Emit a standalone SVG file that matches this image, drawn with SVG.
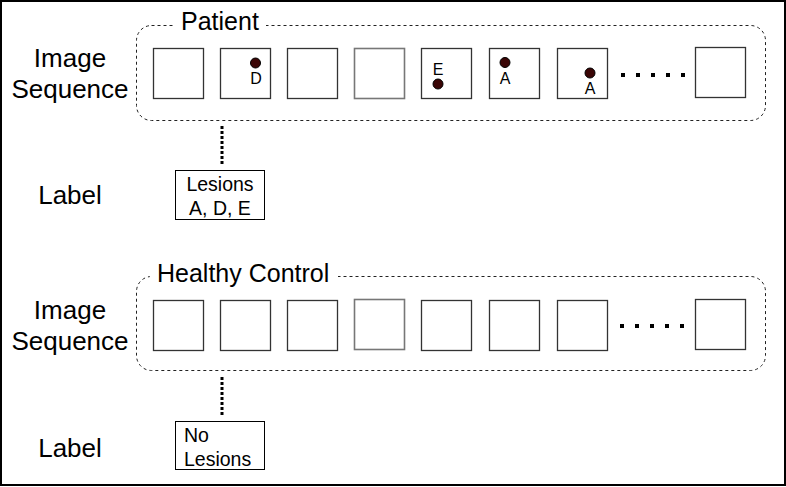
<svg xmlns="http://www.w3.org/2000/svg" width="786" height="487" viewBox="0 0 786 487">
<style>
text{font-family:"Liberation Sans",Arial,sans-serif;fill:#000}
.big{font-size:26px}
.ttl{font-size:25px}
.mid{font-size:19.5px}
.sm{font-size:16px}
.grp{fill:none;stroke:#222;stroke-width:1;stroke-dasharray:3 3}
.frame{fill:#fff;stroke:#333;stroke-width:1.3}
.frame2{fill:#fff;stroke:#777;stroke-width:1.6}
.dot{fill:#3a0505;stroke:#000;stroke-width:1}
.gap{fill:#000}
.lbl{fill:#fff;stroke:#000;stroke-width:1}
.conn{fill:none;stroke:#000;stroke-width:3;stroke-dasharray:3 2}
</style>
<rect x="0" y="0" width="786" height="487" fill="#fff"/>
<rect x="1" y="1" width="784" height="484" fill="none" stroke="#000" stroke-width="2"/>

<g id="patient-seq">
<rect class="grp" x="136.5" y="25.5" width="629" height="95" rx="15"/>
<rect x="174" y="14" width="92" height="20" fill="#fff"/>
<text class="ttl" x="181" y="30">Patient</text>
</g>
<g id="p-frame1"><rect class="frame" x="153.5" y="48.5" width="50" height="50"/></g>
<g id="p-frame2"><rect class="frame" x="220.5" y="48.5" width="50" height="50"/><circle class="dot" cx="255.5" cy="63" r="5"/><text class="sm" x="256" y="84" text-anchor="middle">D</text></g>
<g id="p-frame3"><rect class="frame" x="287.5" y="48.5" width="50" height="50"/></g>
<g id="p-frame4"><rect class="frame2" x="354.5" y="48.5" width="50" height="50"/></g>
<g id="p-frame5"><rect class="frame" x="421.5" y="48.5" width="50" height="50"/><text class="sm" x="438" y="75" text-anchor="middle">E</text><circle class="dot" cx="438" cy="84" r="5"/></g>
<g id="p-frame6"><rect class="frame" x="489.5" y="48.5" width="50" height="50"/><circle class="dot" cx="505" cy="62.5" r="5"/><text class="sm" x="505" y="84" text-anchor="middle">A</text></g>
<g id="p-frame7"><rect class="frame" x="557.5" y="48.5" width="50" height="50"/><circle class="dot" cx="590" cy="73" r="5"/><text class="sm" x="590" y="94" text-anchor="middle">A</text></g>
<g id="p-ellipsis"><rect class="gap" x="621" y="73" width="4" height="4"/><rect class="gap" x="636" y="73" width="4" height="4"/><rect class="gap" x="651" y="73" width="4" height="4"/><rect class="gap" x="666" y="73" width="4" height="4"/><rect class="gap" x="681" y="73" width="4" height="4"/></g>
<g id="p-frameN"><rect class="frame" x="695.5" y="47.5" width="50" height="50"/></g>
<g id="p-imgseq-label"><text class="big" x="70" y="67" text-anchor="middle">Image</text><text class="big" x="70" y="98" text-anchor="middle">Sequence</text></g>
<g id="p-label-title"><text class="big" x="70" y="204" text-anchor="middle">Label</text></g>
<g id="p-label"><rect class="lbl" x="175.5" y="170.5" width="89" height="49"/><text class="mid" x="220" y="191" text-anchor="middle">Lesions</text><text class="mid" x="220" y="215" text-anchor="middle">A, D, E</text></g>

<g id="hc-seq">
<rect class="grp" x="136.5" y="276.5" width="629" height="94" rx="15"/>
<rect x="150" y="264" width="188" height="22" fill="#fff"/>
<text class="ttl" x="157" y="282">Healthy Control</text>
</g>
<g id="h-frame1"><rect class="frame" x="153.5" y="300.5" width="50" height="50"/></g>
<g id="h-frame2"><rect class="frame" x="220.5" y="300.5" width="50" height="50"/></g>
<g id="h-frame3"><rect class="frame" x="287.5" y="300.5" width="50" height="50"/></g>
<g id="h-frame4"><rect class="frame2" x="354.5" y="299.5" width="50" height="50"/></g>
<g id="h-frame5"><rect class="frame" x="421.5" y="300.5" width="50" height="50"/></g>
<g id="h-frame6"><rect class="frame" x="489.5" y="300.5" width="50" height="50"/></g>
<g id="h-frame7"><rect class="frame" x="557.5" y="300.5" width="50" height="50"/></g>
<g id="h-ellipsis"><rect class="gap" x="620" y="324" width="4" height="4"/><rect class="gap" x="635" y="324" width="4" height="4"/><rect class="gap" x="650" y="324" width="4" height="4"/><rect class="gap" x="665" y="324" width="4" height="4"/><rect class="gap" x="680" y="324" width="4" height="4"/></g>
<g id="h-frameN"><rect class="frame" x="695.5" y="299.5" width="50" height="50"/></g>
<g id="h-imgseq-label"><text class="big" x="70" y="319" text-anchor="middle">Image</text><text class="big" x="70" y="350" text-anchor="middle">Sequence</text></g>
<g id="h-label-title"><text class="big" x="70" y="457" text-anchor="middle">Label</text></g>
<g id="h-label"><rect class="lbl" x="175.5" y="421.5" width="89" height="48"/><text class="mid" x="184" y="442">No</text><text class="mid" x="184" y="466">Lesions</text></g>

<g id="connectors">
<line class="conn" x1="222" y1="126" x2="222" y2="166"/>
<line class="conn" x1="222" y1="377" x2="222" y2="417"/>
</g>
</svg>
